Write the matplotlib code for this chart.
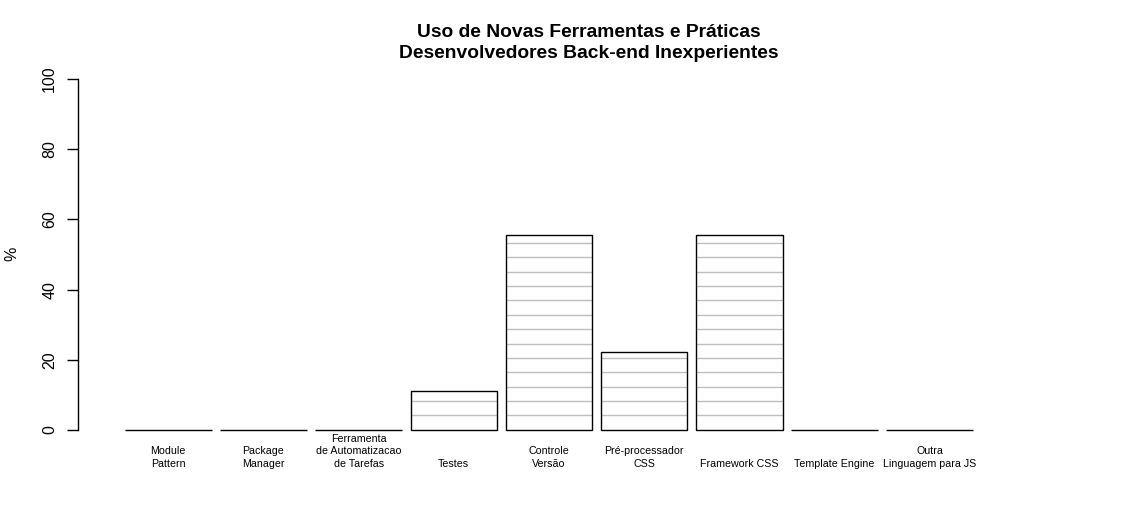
import numpy as np
import matplotlib
matplotlib.use("Agg")
import matplotlib.pyplot as plt

plt.rcParams["font.family"] = ["Liberation Sans", "DejaVu Sans"]

# data: share of inexperienced back-end devs using each tool (%)
categories = ["Module\nPattern", "Package\nManager",
              "Ferramenta\nde Automatizacao\nde Tarefas", "Testes",
              "Controle\nVersão", "Pré-processador\nCSS", "Framework CSS",
              "Template Engine", "Outra\nLinguagem para JS"]
values = [0, 0, 0, 11.1, 55.6, 22.2, 55.6, 0, 0]

SPACE = 0.1          # gap between bars, like barplot(space=0.1)
SHADE_STEP = 4.09    # spacing of the horizontal shading lines (data units)

fig = plt.figure(figsize=(11.46, 5.28), dpi=100)
ax = fig.add_axes([0.0681, 0.159, 0.8918, 0.718])

lefts = SPACE + np.arange(len(values)) * (1 + SPACE)
centers = lefts + 0.5
ax.bar(centers, values, width=1, color="none", edgecolor="black",
       linewidth=1, zorder=2)

# shading lines inside each bar (barplot density/angle=0 look)
for x0, h in zip(lefts, values):
    levels = np.arange(SHADE_STEP + 0.09, h, SHADE_STEP)
    if len(levels):
        ax.hlines(levels, x0, x0 + 1, color="#bebebe", linewidth=1, zorder=1.5)

for c, lab in zip(centers, categories):
    ax.text(c, -11.0, lab, ha="center", va="bottom", fontsize=7.7,
            linespacing=1.27)

ax.set_xlim(-0.443, 11.37)
ax.set_ylim(-4, 104)
ax.set_yticks([0, 20, 40, 60, 80, 100])
ax.tick_params(axis="y", length=8, width=1, labelsize=11.5, pad=7)
for t in ax.get_yticklabels():
    t.set_rotation(90)
    t.set_va("center")
ax.set_xticks([])
for s in ("top", "right", "bottom"):
    ax.spines[s].set_visible(False)
ax.spines["left"].set_bounds(0, 100)
ax.spines["left"].set_linewidth(1)

fig.text(12 / 1146, 1 - 254 / 528, "%", rotation=90, ha="center",
         va="center", fontsize=11.5)
fig.text(589 / 1146, 1 - 43 / 528,
         "Uso de Novas Ferramentas e Práticas\nDesenvolvedores Back-end Inexperientes",
         ha="center", va="center", fontsize=13.9, fontweight="bold",
         linespacing=1.38)

fig.savefig("out.png", dpi=100)
